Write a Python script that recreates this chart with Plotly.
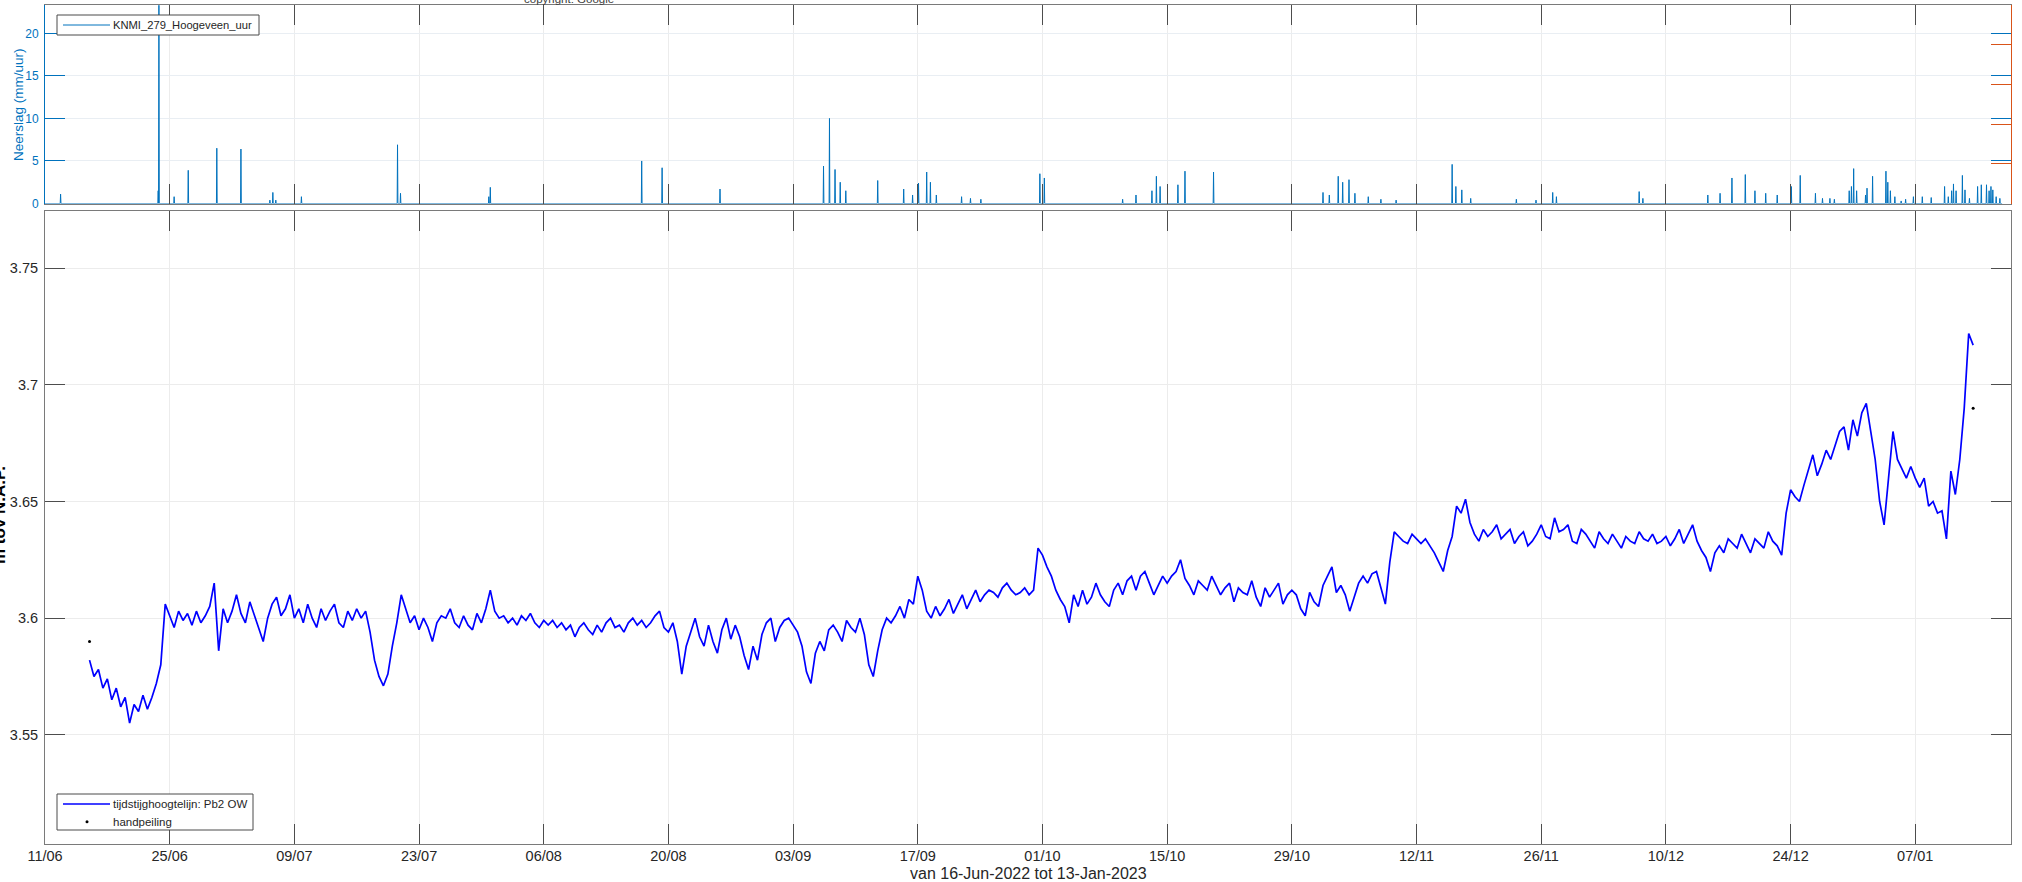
import numpy as np
import pandas as pd
import plotly.graph_objects as go

# ---------------- data ----------------
# water level (m tov N.A.P.), 12-hourly samples starting 2022-06-16 00:00
level_start = "2022-06-16 00:00"
level_step_hours = 12
level_values = [
    3.582, 3.575, 3.578, 3.570, 3.574, 3.565, 3.570, 3.562, 3.566, 3.555,
    3.563, 3.560, 3.567, 3.561, 3.566, 3.572, 3.580, 3.606, 3.601, 3.596,
    3.603, 3.599, 3.602, 3.597, 3.603, 3.598, 3.601, 3.605, 3.615, 3.586,
    3.604, 3.598, 3.603, 3.610, 3.602, 3.598, 3.607, 3.601, 3.596, 3.590,
    3.600, 3.606, 3.609, 3.601, 3.604, 3.610, 3.600, 3.604, 3.598, 3.606,
    3.600, 3.596, 3.604, 3.599, 3.603, 3.606, 3.598, 3.596, 3.603, 3.599,
    3.604, 3.600, 3.603, 3.594, 3.582, 3.575, 3.571, 3.576, 3.588, 3.598,
    3.610, 3.604, 3.598, 3.601, 3.595, 3.600, 3.596, 3.590, 3.598, 3.601,
    3.600, 3.604, 3.598, 3.596, 3.601, 3.597, 3.595, 3.602, 3.598, 3.604,
    3.612, 3.603, 3.600, 3.601, 3.598, 3.600, 3.597, 3.601, 3.599, 3.602,
    3.598, 3.596, 3.599, 3.597, 3.599, 3.596, 3.598, 3.595, 3.597, 3.592,
    3.596, 3.598, 3.595, 3.593, 3.597, 3.594, 3.598, 3.600, 3.596, 3.597,
    3.594, 3.598, 3.600, 3.597, 3.599, 3.596, 3.598, 3.601, 3.603, 3.596,
    3.594, 3.598, 3.590, 3.576, 3.588, 3.594, 3.600, 3.592, 3.588, 3.597,
    3.590, 3.585, 3.595, 3.600, 3.591, 3.597, 3.592, 3.584, 3.578, 3.588,
    3.582, 3.593, 3.598, 3.600, 3.590, 3.596, 3.599, 3.600, 3.597, 3.594,
    3.588, 3.577, 3.572, 3.585, 3.590, 3.586, 3.595, 3.597, 3.594, 3.590,
    3.599, 3.596, 3.594, 3.600, 3.593, 3.580, 3.575, 3.586, 3.595, 3.600,
    3.598, 3.601, 3.605, 3.600, 3.608, 3.606, 3.618, 3.612, 3.603, 3.600,
    3.605, 3.601, 3.604, 3.608, 3.602, 3.606, 3.610, 3.604, 3.608, 3.612,
    3.607, 3.610, 3.612, 3.611, 3.609, 3.613, 3.615, 3.612, 3.610, 3.611,
    3.613, 3.610, 3.612, 3.630, 3.627, 3.622, 3.618, 3.612, 3.608, 3.605,
    3.598, 3.610, 3.605, 3.612, 3.606, 3.609, 3.615, 3.610, 3.607, 3.605,
    3.612, 3.615, 3.610, 3.616, 3.618, 3.612, 3.618, 3.620, 3.615, 3.610,
    3.614, 3.618, 3.615, 3.618, 3.620, 3.625, 3.617, 3.614, 3.610, 3.616,
    3.614, 3.612, 3.618, 3.614, 3.610, 3.613, 3.615, 3.607, 3.613, 3.611,
    3.610, 3.616, 3.609, 3.605, 3.613, 3.609, 3.612, 3.615, 3.606, 3.610,
    3.612, 3.610, 3.604, 3.601, 3.611, 3.607, 3.605, 3.614, 3.618, 3.622,
    3.611, 3.614, 3.610, 3.603, 3.609, 3.615, 3.618, 3.615, 3.619, 3.620,
    3.613, 3.606, 3.624, 3.637, 3.635, 3.633, 3.632, 3.636, 3.634, 3.632,
    3.634, 3.631, 3.628, 3.624, 3.620, 3.629, 3.635, 3.648, 3.645, 3.651,
    3.641, 3.636, 3.633, 3.638, 3.635, 3.637, 3.640, 3.634, 3.636, 3.638,
    3.632, 3.635, 3.637, 3.631, 3.633, 3.636, 3.640, 3.635, 3.634, 3.643,
    3.637, 3.638, 3.640, 3.633, 3.632, 3.638, 3.636, 3.633, 3.630, 3.637,
    3.634, 3.632, 3.636, 3.633, 3.630, 3.635, 3.633, 3.632, 3.637, 3.634,
    3.633, 3.636, 3.632, 3.633, 3.635, 3.631, 3.634, 3.638, 3.632, 3.636,
    3.640, 3.633, 3.629, 3.626, 3.620, 3.628, 3.631, 3.628, 3.634, 3.632,
    3.630, 3.636, 3.632, 3.628, 3.634, 3.632, 3.630, 3.637, 3.633, 3.631,
    3.627, 3.645, 3.655, 3.652, 3.650, 3.657, 3.664, 3.670, 3.661, 3.666,
    3.672, 3.668, 3.674, 3.680, 3.682, 3.672, 3.685, 3.678, 3.688, 3.692,
    3.680, 3.668, 3.650, 3.640, 3.660, 3.680, 3.668, 3.664, 3.660, 3.665,
    3.660, 3.656, 3.660, 3.648, 3.650, 3.645, 3.646, 3.634, 3.663, 3.653,
    3.668, 3.690, 3.722, 3.717,
]

# manual readings (handpeiling)
hand_dates = ["2022-06-16 00:00", "2023-01-13 12:00"]
hand_values = [3.590, 3.690]

# hourly precipitation KNMI 279 Hoogeveen: non-zero hours (mm/uur)
rain_times = [
    "2022-06-12 18:00", "2022-06-23 17:00", "2022-06-23 19:00", "2022-06-25 12:00",
    "2022-06-27 02:00", "2022-06-30 07:00", "2022-07-03 00:00", "2022-07-06 06:00",
    "2022-07-06 14:00", "2022-07-06 22:00", "2022-07-09 19:00", "2022-07-20 14:00",
    "2022-07-20 22:00", "2022-07-30 20:00", "2022-07-31 00:00", "2022-08-17 00:00",
    "2022-08-19 07:00", "2022-08-25 19:00", "2022-09-06 10:00", "2022-09-07 02:00",
    "2022-09-07 17:00", "2022-09-08 07:00", "2022-09-08 22:00", "2022-09-12 12:00",
    "2022-09-15 10:00", "2022-09-16 10:00", "2022-09-17 02:00", "2022-09-18 00:00",
    "2022-09-18 10:00", "2022-09-19 02:00", "2022-09-21 22:00", "2022-09-22 22:00",
    "2022-09-24 02:00", "2022-09-30 17:00", "2022-10-01 05:00", "2022-10-10 00:00",
    "2022-10-11 12:00", "2022-10-13 07:00", "2022-10-13 19:00", "2022-10-14 05:00",
    "2022-10-16 05:00", "2022-10-17 00:00", "2022-10-20 05:00", "2022-11-01 12:00",
    "2022-11-02 05:00", "2022-11-03 05:00", "2022-11-03 17:00", "2022-11-04 10:00",
    "2022-11-05 02:00", "2022-11-06 14:00", "2022-11-08 00:00", "2022-11-09 17:00",
    "2022-11-16 00:00", "2022-11-16 10:00", "2022-11-17 02:00", "2022-11-18 02:00",
    "2022-11-23 05:00", "2022-11-25 10:00", "2022-11-27 07:00", "2022-11-27 17:00",
    "2022-12-07 00:00", "2022-12-07 10:00", "2022-12-14 17:00", "2022-12-16 02:00",
    "2022-12-17 10:00", "2022-12-18 22:00", "2022-12-20 00:00", "2022-12-21 05:00",
    "2022-12-22 12:00", "2022-12-24 02:00", "2022-12-25 02:00", "2022-12-26 19:00",
    "2022-12-27 14:00", "2022-12-28 10:00", "2022-12-28 22:00", "2022-12-30 14:00",
    "2022-12-30 20:00", "2022-12-31 02:00", "2022-12-31 10:00", "2023-01-01 10:00",
    "2023-01-01 14:00", "2023-01-02 05:00", "2023-01-03 17:00", "2023-01-03 22:00",
    "2023-01-04 05:00", "2023-01-04 17:00", "2023-01-05 10:00", "2023-01-05 22:00",
    "2023-01-06 19:00", "2023-01-07 19:00", "2023-01-08 19:00", "2023-01-10 07:00",
    "2023-01-10 17:00", "2023-01-11 02:00", "2023-01-11 07:00", "2023-01-11 14:00",
    "2023-01-12 07:00", "2023-01-12 14:00", "2023-01-13 02:00", "2023-01-14 00:00",
    "2023-01-14 10:00", "2023-01-15 00:00", "2023-01-15 07:00", "2023-01-15 12:00",
    "2023-01-15 17:00", "2023-01-16 02:00", "2023-01-16 12:00",
]
rain_mm = [
    1.1, 1.5, 23.3, 0.8,
    3.9, 6.5, 6.4, 0.4,
    1.3, 0.4, 0.8, 6.9,
    1.2, 0.8, 1.9, 5.0,
    4.2, 1.7, 4.4, 10.0,
    4.0, 2.5, 1.5, 2.7,
    1.7, 1.0, 2.4, 3.7,
    2.5, 1.0, 0.8, 0.6,
    0.5, 3.5, 3.0, 0.5,
    1.0, 1.5, 3.2, 2.0,
    2.2, 3.8, 3.7, 1.3,
    1.0, 3.2, 2.5, 2.8,
    1.2, 0.8, 0.5, 0.4,
    4.6, 2.0, 1.6, 0.6,
    0.5, 0.4, 1.3, 0.8,
    1.4, 0.6, 1.0, 1.2,
    3.0, 3.4, 1.5, 1.2,
    1.0, 2.0, 3.3, 1.2,
    0.6, 0.6, 0.5, 1.5,
    2.0, 4.1, 1.5, 1.0,
    1.8, 3.2, 3.8, 2.5,
    1.5, 0.8, 0.3, 0.5,
    0.8, 0.8, 0.7, 2.0,
    0.8, 1.5, 2.3, 1.5,
    3.3, 1.6, 0.6, 2.0,
    2.2, 2.2, 1.5, 2.0,
    1.6, 0.8, 0.6,
]
rain_period = ["2022-06-11 00:00", "2023-01-16 18:00"]

x_tick_start = "2022-06-11"
x_range = ["2022-06-11 00:00", "2023-01-17 18:00"]
level_ticks = [3.55, 3.60, 3.65, 3.70, 3.75]
level_ticktext = ["3.55", "3.6", "3.65", "3.7", "3.75"]
rain_ticks = [0, 5, 10, 15, 20]

rain_name = "KNMI_279_Hoogeveen_uur"
level_name = "tijdstijghoogtelijn: Pb2 OW"
hand_name = "handpeiling"

# ---------------- build series ----------------
level_times = pd.date_range(level_start, periods=len(level_values),
                            freq=f"{level_step_hours}h")

# hourly rain series: zero everywhere except the listed hours
rt = pd.to_datetime(rain_times)
rx, ry = [pd.Timestamp(rain_period[0])], [0.0]
for t, v in zip(rt, rain_mm):
    rx += [t - pd.Timedelta(hours=1), t, t + pd.Timedelta(hours=1)]
    ry += [0.0, v, 0.0]
rx.append(pd.Timestamp(rain_period[1]))
ry.append(0.0)

MBLUE = "#0072BD"
MORANGE = "#D95319"
FRAME = "#7a7a7a"
TICKC = "#4d4d4d"
GRID = "#ececec"
TXT = "#262626"
LEGB = "#4a4a4a"
FONT = "Liberation Sans, Arial, sans-serif"

fig = go.Figure()

fig.add_trace(go.Scatter(
    x=rx, y=ry, mode="lines", name=rain_name, showlegend=False,
    line=dict(color=MBLUE, width=1), xaxis="x2", yaxis="y2",
))
fig.add_trace(go.Scatter(
    x=[], y=[], mode="lines", showlegend=False, xaxis="x2", yaxis="y3",
    line=dict(color=MORANGE),
))
fig.add_trace(go.Scatter(
    x=level_times, y=level_values, mode="lines", name=level_name, showlegend=False,
    line=dict(color="#0000ff", width=1.7), xaxis="x", yaxis="y",
))
fig.add_trace(go.Scatter(
    x=pd.to_datetime(hand_dates), y=hand_values, mode="markers", name=hand_name,
    showlegend=False, marker=dict(color="black", size=3), xaxis="x", yaxis="y",
))

W, H = 2022, 882
ML, MR, MT, MB = 45, 11, 5, 38
PW, PH = W - ML - MR, H - MT - MB

def py(px):  # pixel y -> paper y
    return (H - MB - px) / PH

def pxx(px):  # pixel x -> paper x
    return (px - ML) / PW

dtick = 14 * 86400000

common_x = dict(
    type="date", range=x_range, tick0=x_tick_start, dtick=dtick,
    ticks="inside", ticklen=20, tickcolor=TICKC, tickwidth=1,
    showline=True, linecolor=FRAME, linewidth=1, mirror="ticks",
    showgrid=True, gridcolor=GRID, gridwidth=1, zeroline=False,
)

# ---- legend boxes (drawn in paper space) ----
shapes = []
annotations = []

def legend_box(x0, y0, x1, y1):
    shapes.append(dict(type="rect", xref="paper", yref="paper",
                       x0=pxx(x0), x1=pxx(x1), y0=py(y1), y1=py(y0),
                       line=dict(color=LEGB, width=1), fillcolor="white",
                       layer="above"))

def legend_line(x0, x1, y, color, width):
    shapes.append(dict(type="line", xref="paper", yref="paper",
                       x0=pxx(x0), x1=pxx(x1), y0=py(y), y1=py(y),
                       line=dict(color=color, width=width), layer="above"))

def legend_text(x, y, text, size=11.5):
    annotations.append(dict(text=text, xref="paper", yref="paper",
                            x=pxx(x), y=py(y), xanchor="left", yanchor="middle",
                            showarrow=False, borderpad=0,
                            font=dict(size=size, color=TXT)))

legend_box(57, 15, 259, 35)
legend_line(63, 110, 25, MBLUE, 1)
legend_text(112, 25, rain_name, 11.2)

legend_box(57, 794, 253, 830)
legend_line(63, 110, 804, "#0000ff", 1.5)
legend_text(112, 804, level_name)
shapes.append(dict(type="circle", xref="paper", yref="paper",
                   x0=pxx(85.5), x1=pxx(88.5), y0=py(823.2), y1=py(820.2),
                   fillcolor="black", line=dict(color="black", width=0),
                   layer="above"))
legend_text(112, 821.5, hand_name)

annotations += [
    dict(text="van 16-Jun-2022 tot 13-Jan-2023", xref="paper", yref="paper",
         x=0.5, y=py(873), xanchor="center", yanchor="middle",
         showarrow=False, font=dict(size=16, color=TXT)),
    dict(text="Neerslag (mm/uur)", xref="paper", yref="paper",
         x=pxx(18), y=py(105), xanchor="center", yanchor="middle",
         textangle=-90, showarrow=False, font=dict(size=13.5, color=MBLUE)),
    dict(text="<b>m tov N.A.P.</b>", xref="paper", yref="paper",
         x=pxx(-1), y=py(515), xanchor="center", yanchor="middle",
         textangle=-90, showarrow=False, font=dict(size=17, color="black")),
    dict(text="copyright: Google", xref="paper", yref="paper",
         x=pxx(569), y=py(-1), xanchor="center", yanchor="middle",
         showarrow=False, font=dict(size=11.5, color="#404040")),
]

fig.update_layout(
    width=W, height=H,
    margin=dict(l=ML, r=MR, t=MT, b=MB, pad=0),
    paper_bgcolor="white", plot_bgcolor="white",
    font=dict(family=FONT, color=TXT),
    showlegend=False,
    xaxis=dict(**common_x, anchor="y", domain=[0, 1], tickformat="%d/%m",
               tickfont=dict(size=14.5, color=TXT), ticklabelstandoff=-1),
    yaxis=dict(domain=[0, py(211)], range=[3.5032, 3.7745],
               tickvals=level_ticks, ticktext=level_ticktext,
               ticks="inside", ticklen=20, tickcolor=TICKC,
               showline=True, linecolor=FRAME, mirror="ticks",
               showgrid=True, gridcolor=GRID, zeroline=False,
               tickfont=dict(size=14.5, color=TXT), ticklabelstandoff=3),
    xaxis2=dict(**common_x, anchor="y2", domain=[0, 1], matches="x",
                showticklabels=False),
    yaxis2=dict(domain=[py(203.5), 1], range=[0, 23.33], tickvals=rain_ticks,
                ticks="inside", ticklen=20, tickcolor=MBLUE,
                showline=True, linecolor=MBLUE, mirror="ticks",
                showgrid=True, gridcolor="#e9eef3", zeroline=False,
                tickfont=dict(size=12, color=MBLUE), ticklabelstandoff=3),
    yaxis3=dict(overlaying="y2", anchor="x2", side="right", range=[0, 5],
                tickvals=[1, 2, 3, 4], showticklabels=False,
                ticks="inside", ticklen=20, tickcolor=MORANGE,
                showline=True, linecolor=MORANGE, showgrid=False, zeroline=False),
    shapes=shapes,
    annotations=annotations,
)

fig.write_html(
    "out.html",
    config={"displayModeBar": False},
    post_script="document.body.style.margin='0px';"
                "document.body.style.padding='0px';"
                "document.documentElement.style.overflow='hidden';",
)
